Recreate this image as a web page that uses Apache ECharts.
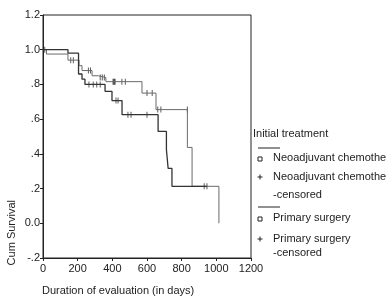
<!DOCTYPE html>
<html>
<head>
<meta charset="utf-8">
<script src="https://cdn.jsdelivr.net/npm/echarts@6/dist/echarts.min.js"></script>
<style>
  html, body { margin: 0; padding: 0; background: #fff; }
  #chart { width: 387px; height: 299px; }
</style>
</head>
<body>
<div id="chart"></div>
<script>
// step curves: [day, survival after that day]
var neoSteps = [[0, 1.0], [20, 0.975], [144, 0.94], [208, 0.908], [225, 0.88], [283, 0.85], [320, 0.84],
    [363, 0.816], [571, 0.75], [652, 0.655], [833, 0.437], [860, 0.213], [1015, 0]];
var neoCensored = [[10, 1.0], [160, 0.94], [175, 0.94], [262, 0.88], [274, 0.88], [330, 0.84], [342, 0.84],
    [354, 0.84], [404, 0.816], [408, 0.816], [412, 0.816], [416, 0.816], [455, 0.816], [475, 0.816],
    [600, 0.75], [630, 0.75], [662, 0.655], [680, 0.655], [833, 0.655]];
var surgSteps = [[0, 1.0], [144, 0.98], [205, 0.86], [225, 0.83], [242, 0.80], [358, 0.76], [398, 0.707],
    [456, 0.626], [664, 0.529], [712, 0.425], [722, 0.316], [744, 0.213], [946, 0.213]];
var surgCensored = [[265, 0.80], [290, 0.80], [310, 0.80], [330, 0.80], [421, 0.707], [433, 0.707],
    [490, 0.626], [508, 0.626], [600, 0.626], [930, 0.213], [946, 0.213]];
var xTicks = [0, 200, 400, 600, 800, 1000, 1200];
var legendTitle = 'Initial treatment';
var legendRows = ['Neoadjuvant chemotherapy', 'Neoadjuvant chemotherapy', '-censored',
    'Primary surgery', 'Primary surgery', '-censored'];

var font = 'Liberation Sans, Arial, sans-serif';
var chart = echarts.init(document.getElementById('chart'));

function yLabel(v) {
    var r = Math.round(v * 10) / 10;
    if (r === 0) return '0.0';
    if (r === 1) return '1.0';
    var s = r.toFixed(1);
    if (Math.abs(r) < 1) s = s.replace('0.', '.');
    return s;
}

function txt(x, y, t) {
    return { type: 'text', left: x, top: y - 7, style: { text: t, fill: '#222', font: '11px ' + font } };
}
function hline(x1, x2, y) {
    return { type: 'line', shape: { x1: x1, y1: y, x2: x2, y2: y }, style: { stroke: '#222', lineWidth: 1 } };
}
function box(x, y) {
    return { type: 'rect', shape: { x: x - 2, y: y - 2, width: 4, height: 4 }, style: { fill: 'none', stroke: '#222', lineWidth: 1 } };
}
function plus(x, y) {
    return { type: 'group', children: [
        { type: 'line', shape: { x1: x - 2.5, y1: y, x2: x + 2.5, y2: y }, style: { stroke: '#222', lineWidth: 1 } },
        { type: 'line', shape: { x1: x, y1: y - 2.5, x2: x, y2: y + 2.5 }, style: { stroke: '#222', lineWidth: 1 } }
    ] };
}

chart.setOption({
    animation: false,
    grid: { left: 43, top: 15, right: 136, bottom: 41, show: true, borderColor: '#222', borderWidth: 1 },
    xAxis: {
        type: 'value', min: xTicks[0], max: xTicks[xTicks.length - 1], interval: 200,
        axisLine: { onZero: false, lineStyle: { color: '#222' } },
        axisTick: { show: true, length: 3, lineStyle: { color: '#222' } },
        axisLabel: { color: '#222', fontSize: 11, fontFamily: font, margin: 5, formatter: function (v) { return String(v); } },
        splitLine: { show: false }
    },
    yAxis: {
        type: 'value', min: -0.2, max: 1.2, interval: 0.2,
        axisLine: { show: true, onZero: false, lineStyle: { color: '#222' } },
        axisTick: { show: true, length: 3, lineStyle: { color: '#222' } },
        axisLabel: { color: '#222', fontSize: 11, fontFamily: font, margin: 3, formatter: yLabel },
        splitLine: { show: false }
    },
    series: [
        { type: 'line', step: 'end', data: neoSteps, symbol: 'none', lineStyle: { color: '#6a6a6a', width: 1 } },
        { type: 'line', step: 'end', data: surgSteps, symbol: 'none', lineStyle: { color: '#333', width: 1.3 } },
        { type: 'scatter', data: neoCensored, symbol: 'rect', symbolSize: [1, 6], itemStyle: { color: '#333' } },
        { type: 'scatter', data: surgCensored, symbol: 'rect', symbolSize: [1, 6], itemStyle: { color: '#333' } }
    ],
    graphic: [
        { type: 'text', left: 6, top: 200, rotation: Math.PI / 2,
          style: { text: 'Cum Survival', fill: '#222', font: '11px ' + font } },
        txt(42, 292, 'Duration of evaluation (in days)'),
        txt(253, 135, legendTitle),
        hline(258, 280, 148),
        box(260, 159), txt(273, 159, legendRows[0]),
        plus(260, 177), txt(273, 178, legendRows[1]), txt(273, 196, legendRows[2]),
        hline(258, 280, 207),
        box(260, 219), txt(273, 219, legendRows[3]),
        plus(260, 239), txt(273, 240, legendRows[4]), txt(273, 254, legendRows[5])
    ]
});
</script>
</body>
</html>
